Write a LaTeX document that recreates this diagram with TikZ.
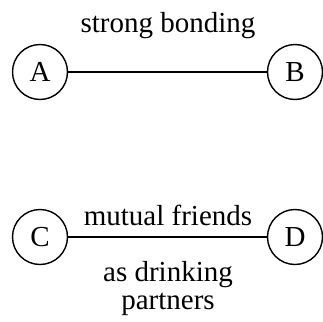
\documentclass[tikz,border=0pt]{standalone}
\usepackage{fontspec}
\setmainfont{Liberation Serif}
\begin{document}
\begin{tikzpicture}[x=1pt,y=-1pt,
  vtx/.style={draw,circle,line width=1.4pt,minimum size=55pt,inner sep=0pt,font=\fontsize{29}{30}\selectfont},
  lbl/.style={font=\fontsize{29}{30}\selectfont,align=center,inner sep=0pt,anchor=base},
  edge/.style={line width=1.4pt}]
\useasboundingbox (0,0) rectangle (323,321);
\node[vtx] (A) at (40,72) {A};
\node[vtx] (B) at (295,72) {B};
\node[vtx] (C) at (40,237) {C};
\node[vtx] (D) at (295,237) {D};
\draw[edge] (A) -- (B);
\draw[edge] (C) -- (D);
\node[lbl] (t1) at (168,33) {strong bonding};
\node[lbl] (t2) at (168,225) {mutual friends};
\node[lbl] (t3) at (168,281) {as drinking};
\node[lbl] (t4) at (168,309) {partners};
\end{tikzpicture}
\end{document}
